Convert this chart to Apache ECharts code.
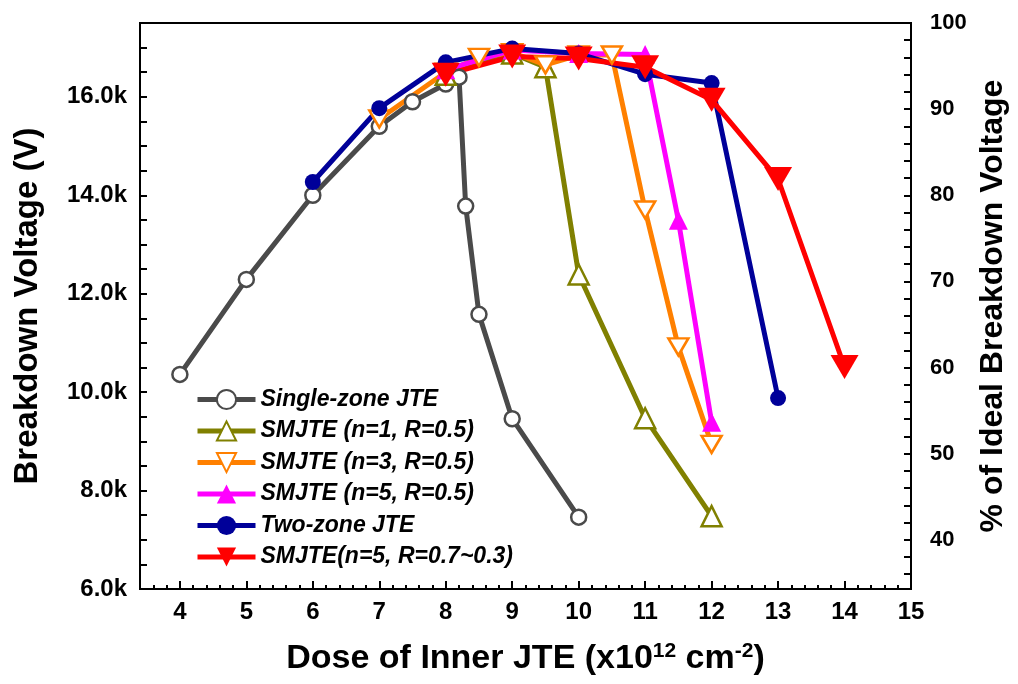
<!DOCTYPE html>
<html>
<head>
<meta charset="utf-8">
<script src="https://cdn.jsdelivr.net/npm/echarts@6/dist/echarts.min.js"></script>
<style>
  html, body { margin: 0; background: #fff; }
  #chart { width: 1018px; height: 684px; }
</style>
</head>
<body>
<div id="chart"></div>
<script>
const FONT = '"Liberation Sans", Arial, sans-serif';
const IDEAL_V = 17500; // voltage that the right axis calls 100 %

// dose (x1e12 cm-2) vs breakdown voltage (V)
const singleZoneJte = [[4,10360],[5,12290],[6,14000],[7,15400],[7.5,15900],[8,16260],[8.2,16400],[8.3,13780],[8.5,11580],[9,9460],[10,7460]];
const smjteN1 = [[8,16450],[9,16880],[9.5,16600],[10,12390],[11,9470],[12,7480]];
const smjteN3 = [[7,15550],[8,16500],[8.5,16800],[9,16900],[9.5,16650],[10,16850],[10.5,16850],[11,13700],[11.5,10920],[12,8940]];
const smjteN5 = [[8,16550],[9,16950],[10,16880],[11,16860],[11.5,13490],[12,9390]];
const twoZoneJte = [[6,14270],[7,15770],[8,16700],[9,16980],[10,16880],[11,16460],[12,16280],[13,9880]];
const smjteGraded = [[8,16450],[9,16820],[10,16780],[11,16600],[12,15940],[13,14330],[14,10510]];

const seriesNames = ['Single-zone JTE', 'SMJTE (n=1, R=0.5)', 'SMJTE (n=3, R=0.5)',
  'SMJTE (n=5, R=0.5)', 'Two-zone JTE', 'SMJTE(n=5, R=0.7~0.3)'];

// tick labels
const xTicks = [4,5,6,7,8,9,10,11,12,13,14,15];
const voltTicks = [6000,8000,10000,12000,14000,16000];
const pctTicks = [40,50,60,70,80,90,100];
const pctMinor = [];
for (let p = 36; p < 100; p += 2) pctMinor.push(p);

const DOWN_TRI = 'path://M0,0L20,0L10,17Z';

function mkLine(name, data, color, symbol, size, hollow) {
  return {
    name: name,
    type: 'line',
    data: data,
    symbol: symbol,
    symbolSize: size,
    lineStyle: { color: color, width: 5 },
    itemStyle: hollow
      ? { color: '#fff', borderColor: color, borderWidth: 2.5 }
      : { color: color, borderColor: color, borderWidth: 0 },
    emphasis: { disabled: true }
  };
}

const tickStyle = { color: '#000', width: 2 };
const labelStyle = { color: '#000', fontFamily: FONT, fontWeight: 'bold' };

const chart = echarts.init(document.getElementById('chart'));
chart.setOption({
  animation: false,
  grid: { left: 140, right: 107, top: 23, bottom: 95, show: true, borderColor: '#000', borderWidth: 2 },
  legend: {
    orient: 'vertical',
    left: 190,
    top: 383,
    itemWidth: 58,
    itemHeight: 24,
    itemGap: 8.5,
    data: seriesNames,
    lineStyle: { width: 5 },
    textStyle: { color: '#000', fontFamily: FONT, fontWeight: 'bold', fontStyle: 'italic', fontSize: 23 }
  },
  xAxis: [{
    type: 'value',
    min: 3.4,
    max: 15,
    axisLine: { show: true, onZero: false, lineStyle: tickStyle },
    axisTick: { inside: true, length: 8, customValues: xTicks, lineStyle: tickStyle },
    axisLabel: Object.assign({ customValues: xTicks, fontSize: 24, margin: 11 }, labelStyle),
    splitLine: { show: false },
    name: '{a|Dose of Inner JTE (x10}{s|12}{a| cm}{s|-2}{a|)}',
    nameLocation: 'middle',
    nameGap: 52,
    nameTextStyle: {
      rich: {
        a: { fontFamily: FONT, fontWeight: 'bold', fontSize: 34, lineHeight: 36, color: '#000' },
        s: { fontFamily: FONT, fontWeight: 'bold', fontSize: 21, lineHeight: 20, padding: [0, 0, 16, 0], color: '#000' }
      }
    }
  }, {
    type: 'value',
    min: 3.4,
    max: 15,
    interval: 0.2,
    position: 'bottom',
    offset: 0,
    axisLine: { show: false },
    axisTick: { inside: true, length: 4, lineStyle: tickStyle },
    axisLabel: { show: false },
    splitLine: { show: false }
  }],
  yAxis: [{
    type: 'value',
    min: 6000,
    max: 17500,
    interval: 500,
    axisLine: { show: true, onZero: false, lineStyle: tickStyle },
    axisTick: { inside: true, length: 7, lineStyle: tickStyle },
    axisLabel: Object.assign({
      customValues: voltTicks,
      fontSize: 24,
      margin: 13,
      formatter: v => (v / 1000).toFixed(1) + 'k'
    }, labelStyle),
    splitLine: { show: false },
    name: 'Breakdown Voltage (V)',
    nameLocation: 'middle',
    nameRotate: 90,
    nameGap: 96,
    nameTextStyle: { color: '#000', fontFamily: FONT, fontWeight: 'bold', fontSize: 33 }
  }, {
    type: 'value',
    position: 'right',
    min: 100 * 6000 / IDEAL_V,
    max: 100,
    axisLine: { show: true, onZero: false, lineStyle: tickStyle },
    axisTick: { inside: true, length: 7, customValues: pctMinor, lineStyle: tickStyle },
    axisLabel: Object.assign({ customValues: pctTicks, fontSize: 22, margin: 19 }, labelStyle),
    splitLine: { show: false },
    name: '% of Ideal Breakdown Voltage',
    nameLocation: 'middle',
    nameRotate: 90,
    nameGap: 66,
    nameTextStyle: { color: '#000', fontFamily: FONT, fontWeight: 'bold', fontSize: 32 }
  }],
  series: [
    mkLine(seriesNames[0], singleZoneJte, '#4a4a4a', 'circle', 15, true),
    mkLine(seriesNames[1], smjteN1, '#808000', 'triangle', 20, true),
    mkLine(seriesNames[2], smjteN3, '#ff8000', DOWN_TRI, [20, 17], true),
    mkLine(seriesNames[3], smjteN5, '#ff00ff', 'triangle', 19, false),
    mkLine(seriesNames[4], twoZoneJte, '#000099', 'circle', 16, false),
    mkLine(seriesNames[5], smjteGraded, '#ff0000', DOWN_TRI, [28, 24], false)
  ]
});
</script>
</body>
</html>
